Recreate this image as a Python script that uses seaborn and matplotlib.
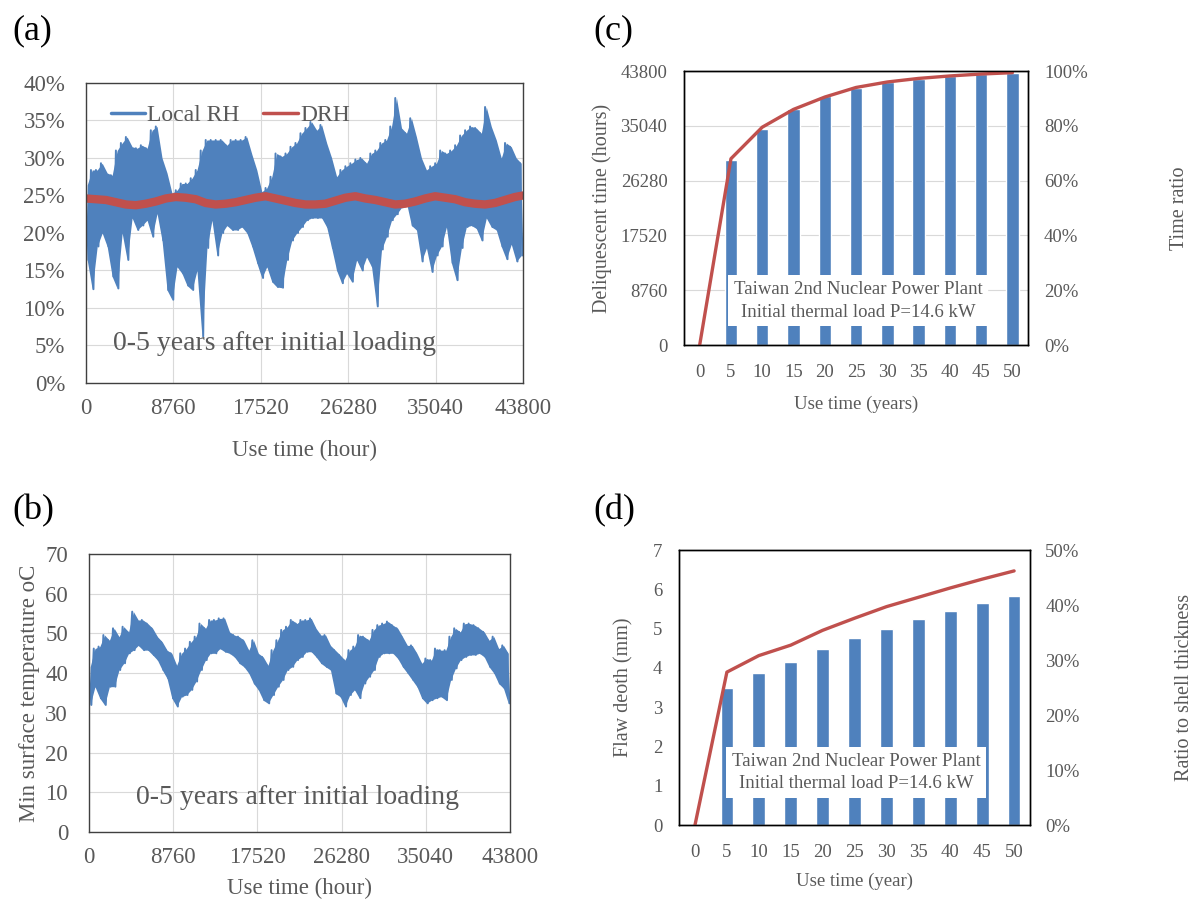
# Four-panel figure: local RH / DRH, surface temperature, deliquescent time and flaw depth

import numpy as np
import pandas as pd
import seaborn as sns
import matplotlib.pyplot as plt
from matplotlib.lines import Line2D
from matplotlib.ticker import PercentFormatter

# ---- data ----
# panel (a): local RH (%) upper / lower readings every 500 h, DRH (%) every 1000 h
rh_hi = [26.4, 28.4, 28.4, 29.3, 28.0, 27.7, 31.0, 32.0, 32.8, 31.5,
         31.3, 31.7, 31.3, 33.7, 34.2, 30.0, 28.0, 25.3, 25.7, 26.6,
         26.6, 27.3, 28.4, 31.0, 32.4, 32.4, 32.4, 32.4, 31.7, 32.4,
         32.4, 32.4, 32.8, 30.5, 28.4, 25.5, 26.0, 27.5, 30.6, 30.2,
         30.6, 31.5, 32.0, 33.3, 34.0, 34.8, 33.7, 34.4, 32.0, 30.0,
         27.5, 28.4, 28.9, 29.3, 29.8, 30.0, 29.3, 30.6, 31.0, 32.0,
         32.4, 34.2, 38.0, 34.0, 33.3, 35.3, 32.8, 30.0, 28.4, 28.9,
         29.3, 31.0, 30.6, 31.0, 31.7, 33.0, 33.7, 34.2, 34.0, 33.3,
         36.8, 34.2, 32.4, 30.0, 32.0, 31.5, 30.0, 29.3]
rh_lo = [16.4, 12.5, 18.2, 20.0, 18.2, 14.2, 12.6, 20.0, 16.4, 22.0,
         20.4, 21.0, 21.7, 19.5, 22.6, 19.0, 12.4, 11.1, 15.5, 14.6,
         13.0, 12.4, 15.0, 6.2, 18.0, 21.7, 17.0, 20.0, 21.0, 20.4,
         20.4, 20.8, 20.0, 18.2, 16.0, 14.0, 15.5, 13.5, 12.8, 12.7,
         16.4, 19.0, 20.0, 20.8, 21.7, 22.0, 22.0, 22.0, 20.8, 18.0,
         15.0, 13.3, 14.6, 13.5, 16.4, 15.0, 16.8, 15.5, 10.2, 17.8,
         19.5, 21.7, 22.5, 23.4, 24.0, 21.0, 20.4, 16.2, 18.0, 14.8,
         17.0, 18.2, 20.8, 16.0, 13.7, 18.0, 20.8, 21.0, 20.6, 19.0,
         22.0, 20.8, 20.4, 18.2, 16.5, 18.5, 16.2, 17.0]
drh = [24.6, 24.5, 24.4, 24.1, 23.8, 23.7, 23.9, 24.2, 24.6, 24.8,
       24.7, 24.5, 24.0, 23.8, 23.9, 24.1, 24.4, 24.7, 24.9, 24.6,
       24.3, 24.0, 23.8, 23.8, 23.9, 24.3, 24.7, 24.9, 24.6, 24.4,
       24.1, 23.8, 23.9, 24.2, 24.6, 24.9, 24.7, 24.5, 24.1, 23.9,
       23.8, 24.0, 24.4, 24.8, 25.0]
drh_hours = list(range(0, 44000, 1000)) + [43800]

# panel (b): min surface temperature (oC) upper / lower readings every 500 h
temp_hi = [41.6, 46.2, 46.7, 49.6, 48.3, 51.3, 49.2, 51.7, 50.4, 55.5,
           53.4, 53.4, 52.5, 51.3, 49.2, 47.9, 45.8, 45.0, 42.0, 45.0,
           46.2, 47.9, 49.2, 52.5, 51.3, 53.4, 53.4, 53.8, 53.8, 50.4,
           49.6, 49.2, 48.3, 45.8, 48.3, 45.0, 44.1, 42.0, 45.8, 48.3,
           50.9, 51.7, 53.4, 52.5, 53.4, 53.4, 53.8, 51.3, 49.6, 49.6,
           47.0, 45.8, 44.6, 43.3, 45.8, 46.7, 49.6, 49.2, 48.3, 50.9,
           52.1, 52.5, 53.0, 52.1, 51.3, 49.2, 47.0, 47.0, 45.0, 42.5,
           43.7, 43.3, 46.2, 45.8, 45.8, 49.2, 51.3, 50.4, 52.5, 52.5,
           52.1, 51.3, 50.4, 48.3, 49.2, 46.2, 47.0, 45.0]
temp_lo = [32.0, 36.6, 33.7, 32.0, 36.6, 36.6, 40.8, 42.5, 45.0, 45.8,
           47.0, 45.8, 45.8, 44.6, 43.3, 40.8, 38.7, 33.7, 31.6, 34.1,
           34.5, 35.8, 37.9, 40.8, 43.3, 45.0, 45.0, 46.2, 45.4, 45.0,
           44.1, 42.5, 41.6, 40.0, 37.4, 35.8, 33.2, 32.4, 34.5, 36.6,
           38.3, 40.8, 41.6, 43.3, 44.1, 45.4, 45.4, 44.1, 42.5, 41.6,
           40.8, 34.9, 34.1, 31.6, 34.5, 35.8, 33.7, 37.4, 39.1, 40.8,
           44.1, 45.0, 45.0, 45.0, 43.7, 41.6, 40.0, 38.3, 36.6, 33.7,
           32.4, 33.2, 33.7, 34.1, 33.2, 38.3, 41.2, 43.3, 44.1, 44.6,
           44.6, 45.0, 44.1, 41.6, 40.0, 37.4, 36.2, 32.4]
step_h = 500

# panels (c) and (d)
years = ["0", "5", "10", "15", "20", "25", "30", "35", "40", "45", "50"]
deliq_hours = [0, 29500, 34600, 37700, 39750, 41150, 42050, 42600, 42950, 43250, 43500]
time_ratio = [0, 0.68, 0.795, 0.86, 0.905, 0.94, 0.96, 0.973, 0.982, 0.989, 0.994]
flaw_mm = [0, 3.49, 3.86, 4.16, 4.48, 4.75, 5.0, 5.25, 5.46, 5.66, 5.84]
flaw_ratio = [0, 0.278, 0.308, 0.327, 0.354, 0.376, 0.397, 0.414, 0.431, 0.447, 0.462]

hour_ticks = [0, 8760, 17520, 26280, 35040, 43800]

blue = "#4F81BD"
red = "#C0504D"
gray = "#595959"
gridc = "#D9D9D9"

sns.set_theme(style="white")
plt.rcParams["font.family"] = ["Liberation Serif", "DejaVu Serif"]
plt.rcParams["text.color"] = gray
plt.rcParams["axes.labelcolor"] = gray
plt.rcParams["xtick.color"] = gray
plt.rcParams["ytick.color"] = gray
fs_big = 16.5
fs = 13.5


def zigzag(hi, lo, step):
    # alternate the upper and lower readings so the noisy band is drawn as one line
    n = len(hi)
    x = np.ravel(np.column_stack([np.arange(n) * step, np.arange(n) * step + step / 2]))
    y = np.ravel(np.column_stack([hi, lo]))
    return pd.DataFrame({"hour": x, "value": y})


def noisy_band(ax, hi, lo, step):
    # dense body of the hourly record + the jagged trace on top of it
    hrs = np.arange(len(hi)) * step
    ax.fill_between(hrs + step / 4, hi, lo, color=blue, linewidth=0)
    sns.lineplot(data=zigzag(hi, lo, step), x="hour", y="value", ax=ax, color=blue,
                 linewidth=1.4, estimator=None)


def frame(ax, color="#404040", size=fs, xpad=8, ypad=8):
    for s in ax.spines.values():
        s.set_visible(True)
        s.set_color(color)
        s.set_linewidth(1.0)
    ax.tick_params(length=0, labelsize=size)
    ax.tick_params(axis="x", pad=xpad)
    ax.tick_params(axis="y", pad=ypad)


fig = plt.figure(figsize=(11.94, 8.99), dpi=100)

# ---------- (a) ----------
ax = fig.add_axes([0.0720, 0.574, 0.366, 0.3337])
noisy_band(ax, rh_hi, rh_lo, step_h)
sns.lineplot(x=drh_hours, y=drh, ax=ax, color=red, linewidth=6, estimator=None)
ax.set_xlim(0, 43800)
ax.set_ylim(0, 40)
ax.set_xticks(hour_ticks)
ax.set_yticks(range(0, 41, 5))
ax.yaxis.set_major_formatter(PercentFormatter(100, decimals=0))
ax.grid(True, color=gridc, linewidth=0.8)
ax.set_axisbelow(True)
frame(ax, size=fs_big, xpad=11, ypad=15)
ax.set_xlabel("Use time (hour)", fontsize=fs_big, labelpad=15)
ax.set_ylabel("")
handles = [Line2D([], [], color=blue, lw=2.5), Line2D([], [], color=red, lw=2.5)]
leg = ax.legend(handles, ["Local RH", "DRH"], loc="upper left",
                bbox_to_anchor=(0.008, 0.998), ncol=2, frameon=False,
                fontsize=17, handlelength=1.45, handletextpad=0.1, columnspacing=1.0)
for t in leg.get_texts():
    t.set_color(gray)
ax.text(0.062, 0.133, "0-5 years after initial loading", transform=ax.transAxes,
        fontsize=20, ha="left", va="center", color=gray)
fig.text(0.010, 0.966, "(a)", fontsize=26, color="black", ha="left", va="center")

# ---------- (b) ----------
ax = fig.add_axes([0.0745, 0.0745, 0.3526, 0.3092])
noisy_band(ax, temp_hi, temp_lo, step_h)
ax.set_xlim(0, 43800)
ax.set_ylim(0, 70)
ax.set_xticks(hour_ticks)
ax.set_yticks(range(0, 71, 10))
ax.grid(True, color=gridc, linewidth=0.8)
ax.set_axisbelow(True)
frame(ax, size=fs_big, xpad=11, ypad=15)
ax.set_xlabel("Use time (hour)", fontsize=fs_big, labelpad=7)
ax.set_ylabel("Min surface temperature oC", fontsize=fs_big, labelpad=4)
ax.text(0.112, 0.126, "0-5 years after initial loading", transform=ax.transAxes,
        fontsize=20, ha="left", va="center", color=gray)
fig.text(0.010, 0.432, "(b)", fontsize=26, color="black", ha="left", va="center")

box_text = "Taiwan 2nd Nuclear Power Plant\nInitial thermal load P=14.6 kW"

# ---------- (c) ----------
ax = fig.add_axes([0.5729, 0.6162, 0.2881, 0.3048])
sns.barplot(x=years, y=deliq_hours, ax=ax, color=blue, width=0.4, saturation=1)
ax.set_xlim(-0.5, 10.5)
ax.set_ylim(0, 43800)
ax.set_yticks(hour_ticks)
ax.yaxis.grid(True, color=gridc, linewidth=0.8)
ax.set_axisbelow(True)
frame(ax, "black", xpad=14, ypad=12)
ax.set_xlabel("Use time (years)", fontsize=fs, labelpad=10)
ax.set_ylabel("Deliquescent time (hours)", fontsize=14.5, labelpad=6)
ax2 = ax.twinx()
sns.lineplot(x=np.arange(len(years)), y=time_ratio, ax=ax2, color=red, linewidth=2.4)
ax2.set_ylim(0, 1)
ax2.set_yticks(np.linspace(0, 1, 6))
ax2.yaxis.set_major_formatter(PercentFormatter(1.0, decimals=0))
frame(ax2, "black", xpad=14, ypad=11.5)
ax2.set_ylabel("Time ratio", fontsize=14.5)
ax2.yaxis.set_label_coords(1.413, 0.5)
ax2.text(0.506, 0.162, box_text, transform=ax2.transAxes, fontsize=fs, ha="center",
         va="center", linespacing=1.45, color=gray,
         bbox=dict(facecolor="white", edgecolor="none", pad=4))
fig.text(0.497, 0.966, "(c)", fontsize=26, color="black", ha="left", va="center")

# ---------- (d) ----------
ax = fig.add_axes([0.5687, 0.0823, 0.294, 0.3059])
sns.barplot(x=years, y=flaw_mm, ax=ax, color=blue, width=0.4, saturation=1)
ax.set_xlim(-0.5, 10.5)
ax.set_ylim(0, 7)
ax.set_yticks(range(0, 8))
frame(ax, "black", xpad=14, ypad=12)
ax.set_xlabel("Use time (year)", fontsize=fs, labelpad=8)
ax.set_ylabel("Flaw deoth (mm)", fontsize=14.5, labelpad=14)
ax2 = ax.twinx()
sns.lineplot(x=np.arange(len(years)), y=flaw_ratio, ax=ax2, color=red, linewidth=2.4)
ax2.set_ylim(0, 0.5)
ax2.set_yticks(np.linspace(0, 0.5, 6))
ax2.yaxis.set_major_formatter(PercentFormatter(1.0, decimals=0))
frame(ax2, "black", xpad=14, ypad=11)
ax2.set_ylabel("Ratio to shell thickness", fontsize=14.5)
ax2.yaxis.set_label_coords(1.413, 0.5)
ax2.text(0.505, 0.191, box_text, transform=ax2.transAxes, fontsize=fs, ha="center",
         va="center", linespacing=1.45, color=gray,
         bbox=dict(facecolor="white", edgecolor="none", pad=4))
fig.text(0.497, 0.432, "(d)", fontsize=26, color="black", ha="left", va="center")

fig.savefig("out.png", dpi=100)
